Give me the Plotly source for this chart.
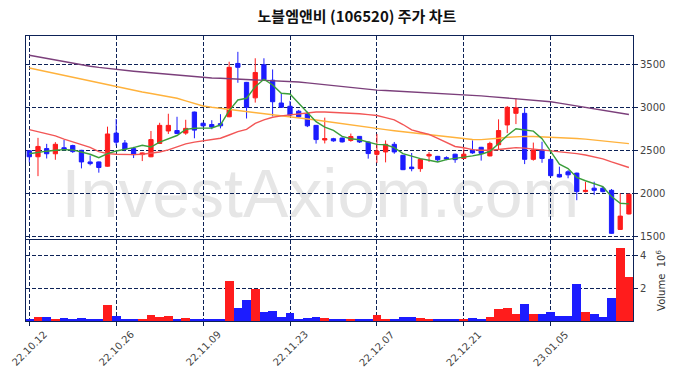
import plotly.graph_objects as go
from plotly.subplots import make_subplots

dates = [
    "2022-10-12","2022-10-13","2022-10-14","2022-10-17","2022-10-18","2022-10-19","2022-10-20","2022-10-21","2022-10-24","2022-10-25",
    "2022-10-26","2022-10-27","2022-10-28","2022-10-31","2022-11-01","2022-11-02","2022-11-03","2022-11-04","2022-11-07","2022-11-08",
    "2022-11-09","2022-11-10","2022-11-11","2022-11-14","2022-11-15","2022-11-16","2022-11-17","2022-11-18","2022-11-21","2022-11-22",
    "2022-11-23","2022-11-24","2022-11-25","2022-11-28","2022-11-29","2022-11-30","2022-12-01","2022-12-02","2022-12-05","2022-12-06",
    "2022-12-07","2022-12-08","2022-12-09","2022-12-12","2022-12-13","2022-12-14","2022-12-15","2022-12-16","2022-12-19","2022-12-20",
    "2022-12-21","2022-12-22","2022-12-23","2022-12-26","2022-12-27","2022-12-28","2022-12-29","2023-01-02","2023-01-03","2023-01-04",
    "2023-01-05","2023-01-06","2023-01-09","2023-01-10","2023-01-11","2023-01-12","2023-01-13","2023-01-16","2023-01-17","2023-01-18",
]

open_ = [2495,2425,2520,2460,2530,2555,2500,2365,2365,2315,
         2700,2585,2520,2450,2425,2580,2725,2730,2700,2945,
         2815,2800,2810,2890,3510,3290,3110,3495,3315,3050,
         3012,2955,2925,2790,2620,2635,2642,2615,2662,2597,
         2453,2481,2570,2442,2305,2287,2434,2430,2415,2455,
         2405,2505,2535,2435,2565,2795,2930,2930,2395,2505,
         2395,2220,2250,2235,2020,2060,2060,2035,1580,1760]
high = [2500,2645,2575,2595,2620,2565,2505,2440,2370,2775,
        2865,2620,2540,2475,2725,2820,2925,2890,2855,2950,
        2820,2850,2920,3530,3645,3295,3570,3570,3440,3160,
        3075,2970,2950,2795,2880,2645,2650,2695,2665,2600,
        2690,2615,2597,2445,2469,2400,2480,2435,2430,2460,
        2525,2615,2540,2600,2860,3015,3105,2990,2590,2600,
        2400,2310,2270,2240,2135,2135,2080,2050,2000,1995]
low = [2360,2200,2405,2390,2500,2470,2290,2325,2240,2310,
       2555,2490,2410,2375,2420,2575,2690,2690,2680,2640,
       2775,2745,2755,2885,3285,2870,3055,3315,2895,2995,
       2905,2880,2770,2578,2580,2600,2590,2600,2585,2403,
       2353,2360,2460,2270,2256,2250,2365,2365,2385,2355,
       2400,2460,2380,2430,2505,2700,2805,2340,2380,2355,
       2200,2185,2175,1920,2010,1980,2010,1530,1575,1755]
close = [2425,2545,2460,2570,2515,2485,2365,2345,2300,2690,
         2595,2515,2450,2470,2625,2790,2790,2695,2755,2735,
         2785,2770,2785,3465,3465,3000,3405,3320,3065,3000,
         2910,2890,2785,2625,2636,2610,2598,2660,2597,2462,
         2492,2570,2481,2275,2287,2395,2453,2390,2398,2392,
         2455,2470,2465,2580,2730,3000,2995,2395,2505,2405,
         2205,2190,2215,2020,2035,2035,2020,1535,1735,1990]
volume = [0.14e6,0.26e6,0.26e6,0.14e6,0.20e6,0.08e6,0.20e6,0.08e6,0.14e6,0.98e6,
          0.32e6,0.14e6,0.14e6,0.08e6,0.38e6,0.26e6,0.32e6,0.08e6,0.20e6,0.14e6,
          0.14e6,0.08e6,0.14e6,2.42e6,0.80e6,1.28e6,1.94e6,0.56e6,0.62e6,0.26e6,
          0.50e6,0.14e6,0.20e6,0.26e6,0.20e6,0.14e6,0.14e6,0.08e6,0.14e6,0.14e6,
          0.38e6,0.14e6,0.14e6,0.26e6,0.26e6,0.20e6,0.14e6,0.08e6,0.08e6,0.08e6,
          0.14e6,0.20e6,0.14e6,0.26e6,0.74e6,0.80e6,0.44e6,1.04e6,0.44e6,0.44e6,
          0.56e6,0.32e6,0.32e6,2.24e6,0.56e6,0.44e6,0.26e6,1.40e6,4.46e6,2.66e6]

ma5 = [2460,2478,2490,2500,2508,2505,2481,2454,2415,2462,
       2492,2508,2531,2558,2538,2596,2635,2672,2744,2756,
       2758,2760,2795,2961,3085,3105,3240,3326,3260,3163,
       3155,3047,2938,2833,2770,2731,2662,2635,2623,2596,
       2569,2565,2531,2462,2431,2404,2385,2365,2392,2404,
       2423,2435,2454,2488,2577,2673,2750,2738,2723,2635,
       2488,2338,2288,2185,2146,2115,2077,1962,1885,1877]
ma20 = [2740,2718,2693,2668,2630,2600,2570,2535,2485,2462,
        2455,2452,2450,2455,2465,2480,2505,2538,2575,2595,
        2610,2628,2640,2678,2717,2744,2814,2853,2884,2900,
        2911,2925,2938,2945,2945,2942,2938,2934,2925,2915,
        2905,2880,2854,2800,2738,2710,2685,2640,2595,2545,
        2530,2508,2500,2500,2510,2520,2531,2525,2515,2500,
        2488,2480,2470,2462,2445,2425,2400,2365,2335,2300]
ma60 = [3457,3435,3413,3390,3368,3346,3324,3302,3280,3258,
        3236,3215,3195,3178,3160,3142,3124,3105,3075,3045,
        3015,3000,2988,2975,2962,2950,2940,2928,2917,2906,
        2895,2881,2866,2852,2838,2823,2809,2795,2780,2766,
        2752,2740,2728,2716,2704,2692,2680,2668,2655,2643,
        2632,2625,2624,2628,2640,2652,2660,2662,2660,2657,
        2655,2650,2645,2638,2630,2620,2610,2600,2590,2578]
ma120 = [3605,3586,3567,3548,3529,3510,3492,3478,3464,3451,
         3438,3429,3420,3410,3401,3392,3382,3373,3364,3354,
         3345,3341,3337,3333,3329,3325,3321,3317,3313,3309,
         3305,3294,3284,3273,3263,3252,3242,3231,3221,3210,
         3200,3195,3190,3185,3180,3175,3170,3165,3160,3155,
         3150,3141,3133,3124,3116,3107,3099,3090,3082,3073,
         3065,3049,3032,3016,2999,2983,2967,2950,2934,2917]

tick_dates = ["2022-10-12","2022-10-26","2022-11-09","2022-11-23","2022-12-07","2022-12-21","2023-01-05"]
tick_labels = ["22.10.12","22.10.26","22.11.09","22.11.23","22.12.07","22.12.21","23.01.05"]
price_ticks = [1500, 2000, 2500, 3000, 3500]
vol_ticks = [2e6, 4e6]
vol_tick_labels = ["2", "4"]

RED = "#ff1c1c"
BLUE = "#1c1cff"
NAVY = "#0d2257"
GRID_DASH = "4px,2px"

fig = make_subplots(rows=2, cols=1, shared_xaxes=True)

for vals, col in [(ma120, "#7b3f7b"), (ma60, "#ffb23c"), (ma20, "#f25656"), (ma5, "#3a9e3a")]:
    fig.add_trace(go.Scatter(x=dates, y=vals, mode="lines", line=dict(color=col, width=1.4),
                             showlegend=False, hoverinfo="skip"), row=1, col=1)

fig.add_trace(go.Candlestick(
    x=dates, open=open_, high=high, low=low, close=close,
    increasing=dict(line=dict(color=RED, width=1), fillcolor=RED),
    decreasing=dict(line=dict(color=BLUE, width=1), fillcolor=BLUE),
    whiskerwidth=0, showlegend=False), row=1, col=1)

vol_colors = [RED if c >= o else BLUE for o, c in zip(open_, close)]
fig.add_trace(go.Bar(x=dates, y=volume, marker=dict(color=vol_colors, line=dict(width=0)),
                     width=1.0, showlegend=False), row=2, col=1)

tickfont = dict(family="DejaVu Sans", size=10, color="#444444")
xcommon = dict(type="category", range=[-0.38, 69.47], tickmode="array", tickvals=tick_dates,
               showgrid=True, gridcolor=NAVY, griddash=GRID_DASH, gridwidth=1,
               showline=True, linecolor=NAVY, linewidth=1, mirror=True, automargin=False,
               rangeslider=dict(visible=False))
fig.update_xaxes(**xcommon)
fig.update_xaxes(showticklabels=False, ticks="", row=1, col=1)
fig.update_xaxes(showticklabels=False, ticks="outside", ticklen=4, tickcolor=NAVY, row=2, col=1)

# rotated date labels centred under their ticks
for d, lab in zip(tick_dates, tick_labels):
    fig.add_annotation(x=d, xref="x2", y=-0.095, yref="paper", text=lab, showarrow=False,
                       textangle=-45, xanchor="center", yanchor="middle", font=tickfont)

fig.update_yaxes(domain=[0.2877, 1.0], range=[1469, 3829], side="right", tickmode="array",
                 tickvals=price_ticks, ticks="outside", ticklen=4, tickcolor=NAVY, tickfont=tickfont,
                 showgrid=True, gridcolor=NAVY, griddash=GRID_DASH, gridwidth=1, automargin=False,
                 showline=True, linecolor=NAVY, linewidth=1, mirror=True, zeroline=False,
                 row=1, col=1)
fig.update_yaxes(domain=[0.0, 0.2842], range=[0, 4.93e6], side="right", tickmode="array",
                 tickvals=vol_ticks, ticktext=vol_tick_labels, ticks="outside", ticklen=4,
                 tickcolor=NAVY, tickfont=tickfont, automargin=False,
                 showgrid=True, gridcolor=NAVY, griddash=GRID_DASH, gridwidth=1,
                 showline=True, linecolor=NAVY, linewidth=1, mirror=True, zeroline=False,
                 title=dict(text="Volume  10<sup>6</sup>", standoff=12,
                            font=dict(family="DejaVu Sans", size=10, color="#333333")),
                 row=2, col=1)

fig.add_shape(type="rect", xref="paper", yref="paper", x0=0.0, x1=0.97, y0=0.33, y1=0.61,
              line=dict(width=0), fillcolor="rgba(0,0,0,0)", layer="below",
              label=dict(text="InvestAxiom.com", textposition="middle center",
                         font=dict(family="Liberation Sans", size=68, color="#e6e6e6")))

fig.update_layout(
    width=680, height=378,
    margin=dict(l=26, r=47, t=36, b=57, autoexpand=False),
    paper_bgcolor="white", plot_bgcolor="white",
    bargap=0,
    title=dict(text="<b>노블엠앤비 (106520) 주가 차트</b>", x=0.525, xanchor="center", y=0.955, yanchor="middle",
               font=dict(family="Noto Sans CJK KR", size=15, color="#111111")),
    showlegend=False,
)

fig.write_html("out.html", config={"displayModeBar": False},
               post_script="document.body.style.margin='0px';")
